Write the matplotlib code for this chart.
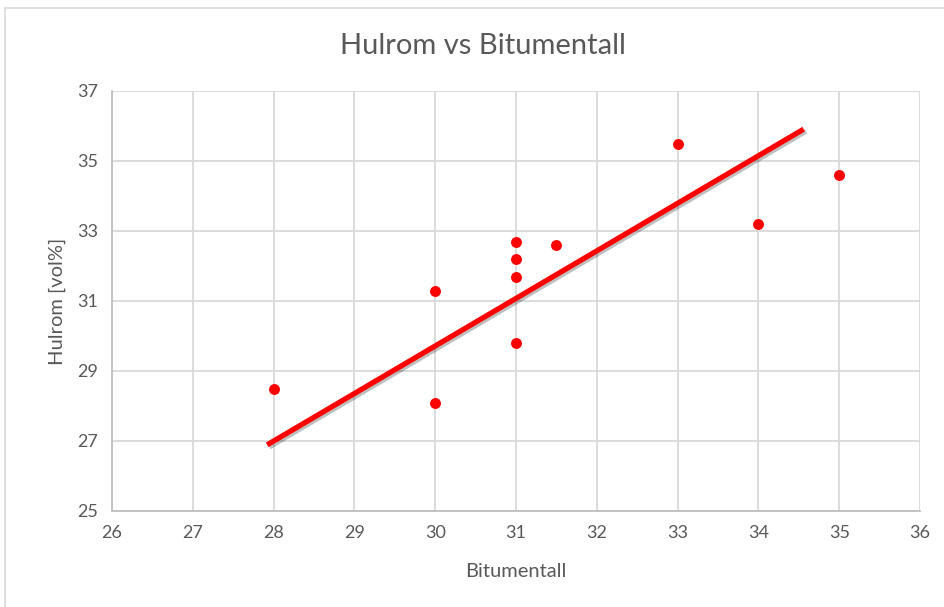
import matplotlib.pyplot as plt
import matplotlib.patheffects as pe
from matplotlib.patches import Rectangle

# data
bitumentall = [28, 30, 30, 31, 31, 31, 31, 31.5, 33, 34, 35]
hulrom = [28.5, 31.3, 28.1, 32.7, 32.2, 31.7, 29.8, 32.6, 35.5, 33.2, 34.6]
trend_x = [27.92, 34.56]
trend_y = [26.89, 35.91]

x_ticks = list(range(26, 37))
y_ticks = list(range(25, 38, 2))

text_col = '#595959'
grid_col = '#d9d9d9'
red = '#ff0000'

plt.rcParams['font.family'] = ['Lato', 'DejaVu Sans']

fig = plt.figure(figsize=(9.45, 6.07), dpi=100)
ax = fig.add_axes([112 / 945, 1 - 511 / 607, 808 / 945, 420 / 607])

ax.scatter(bitumentall, hulrom, s=62, color=red, zorder=3, linewidths=0)
ax.plot(trend_x, trend_y, color=red, linewidth=3.8, solid_capstyle='butt', zorder=4,
        path_effects=[pe.SimpleLineShadow(offset=(1.5, -1.5), alpha=0.25), pe.Normal()])

ax.set_xlim(26, 36)
ax.set_ylim(25, 37)
ax.set_xticks(x_ticks)
ax.set_yticks(y_ticks)
ax.grid(True, color=grid_col, linewidth=1.3)
ax.set_axisbelow(True)
ax.tick_params(length=0, labelsize=13, colors=text_col, pad=10)

for side in ['top', 'right']:
    ax.spines[side].set_visible(False)
for side in ['left', 'bottom']:
    ax.spines[side].set_color('#bfbfbf')
    ax.spines[side].set_linewidth(1.3)

ax.set_xlabel('Bitumentall', fontsize=14.5, color=text_col, labelpad=16)
ax.set_ylabel('Hulrom [vol%]', fontsize=14.5, color=text_col, labelpad=8)
fig.text(483 / 945, 1 - 46 / 607, 'Hulrom vs Bitumentall', fontsize=21, color=text_col,
         ha='center', va='center')

# chart area border
fig.patches.append(Rectangle((5 / 945, -0.1), 1.2, 1.1 - 8 / 607, transform=fig.transFigure,
                             fill=False, edgecolor=grid_col, linewidth=1.2))

fig.savefig('out.png', dpi=100)
plt.close()
